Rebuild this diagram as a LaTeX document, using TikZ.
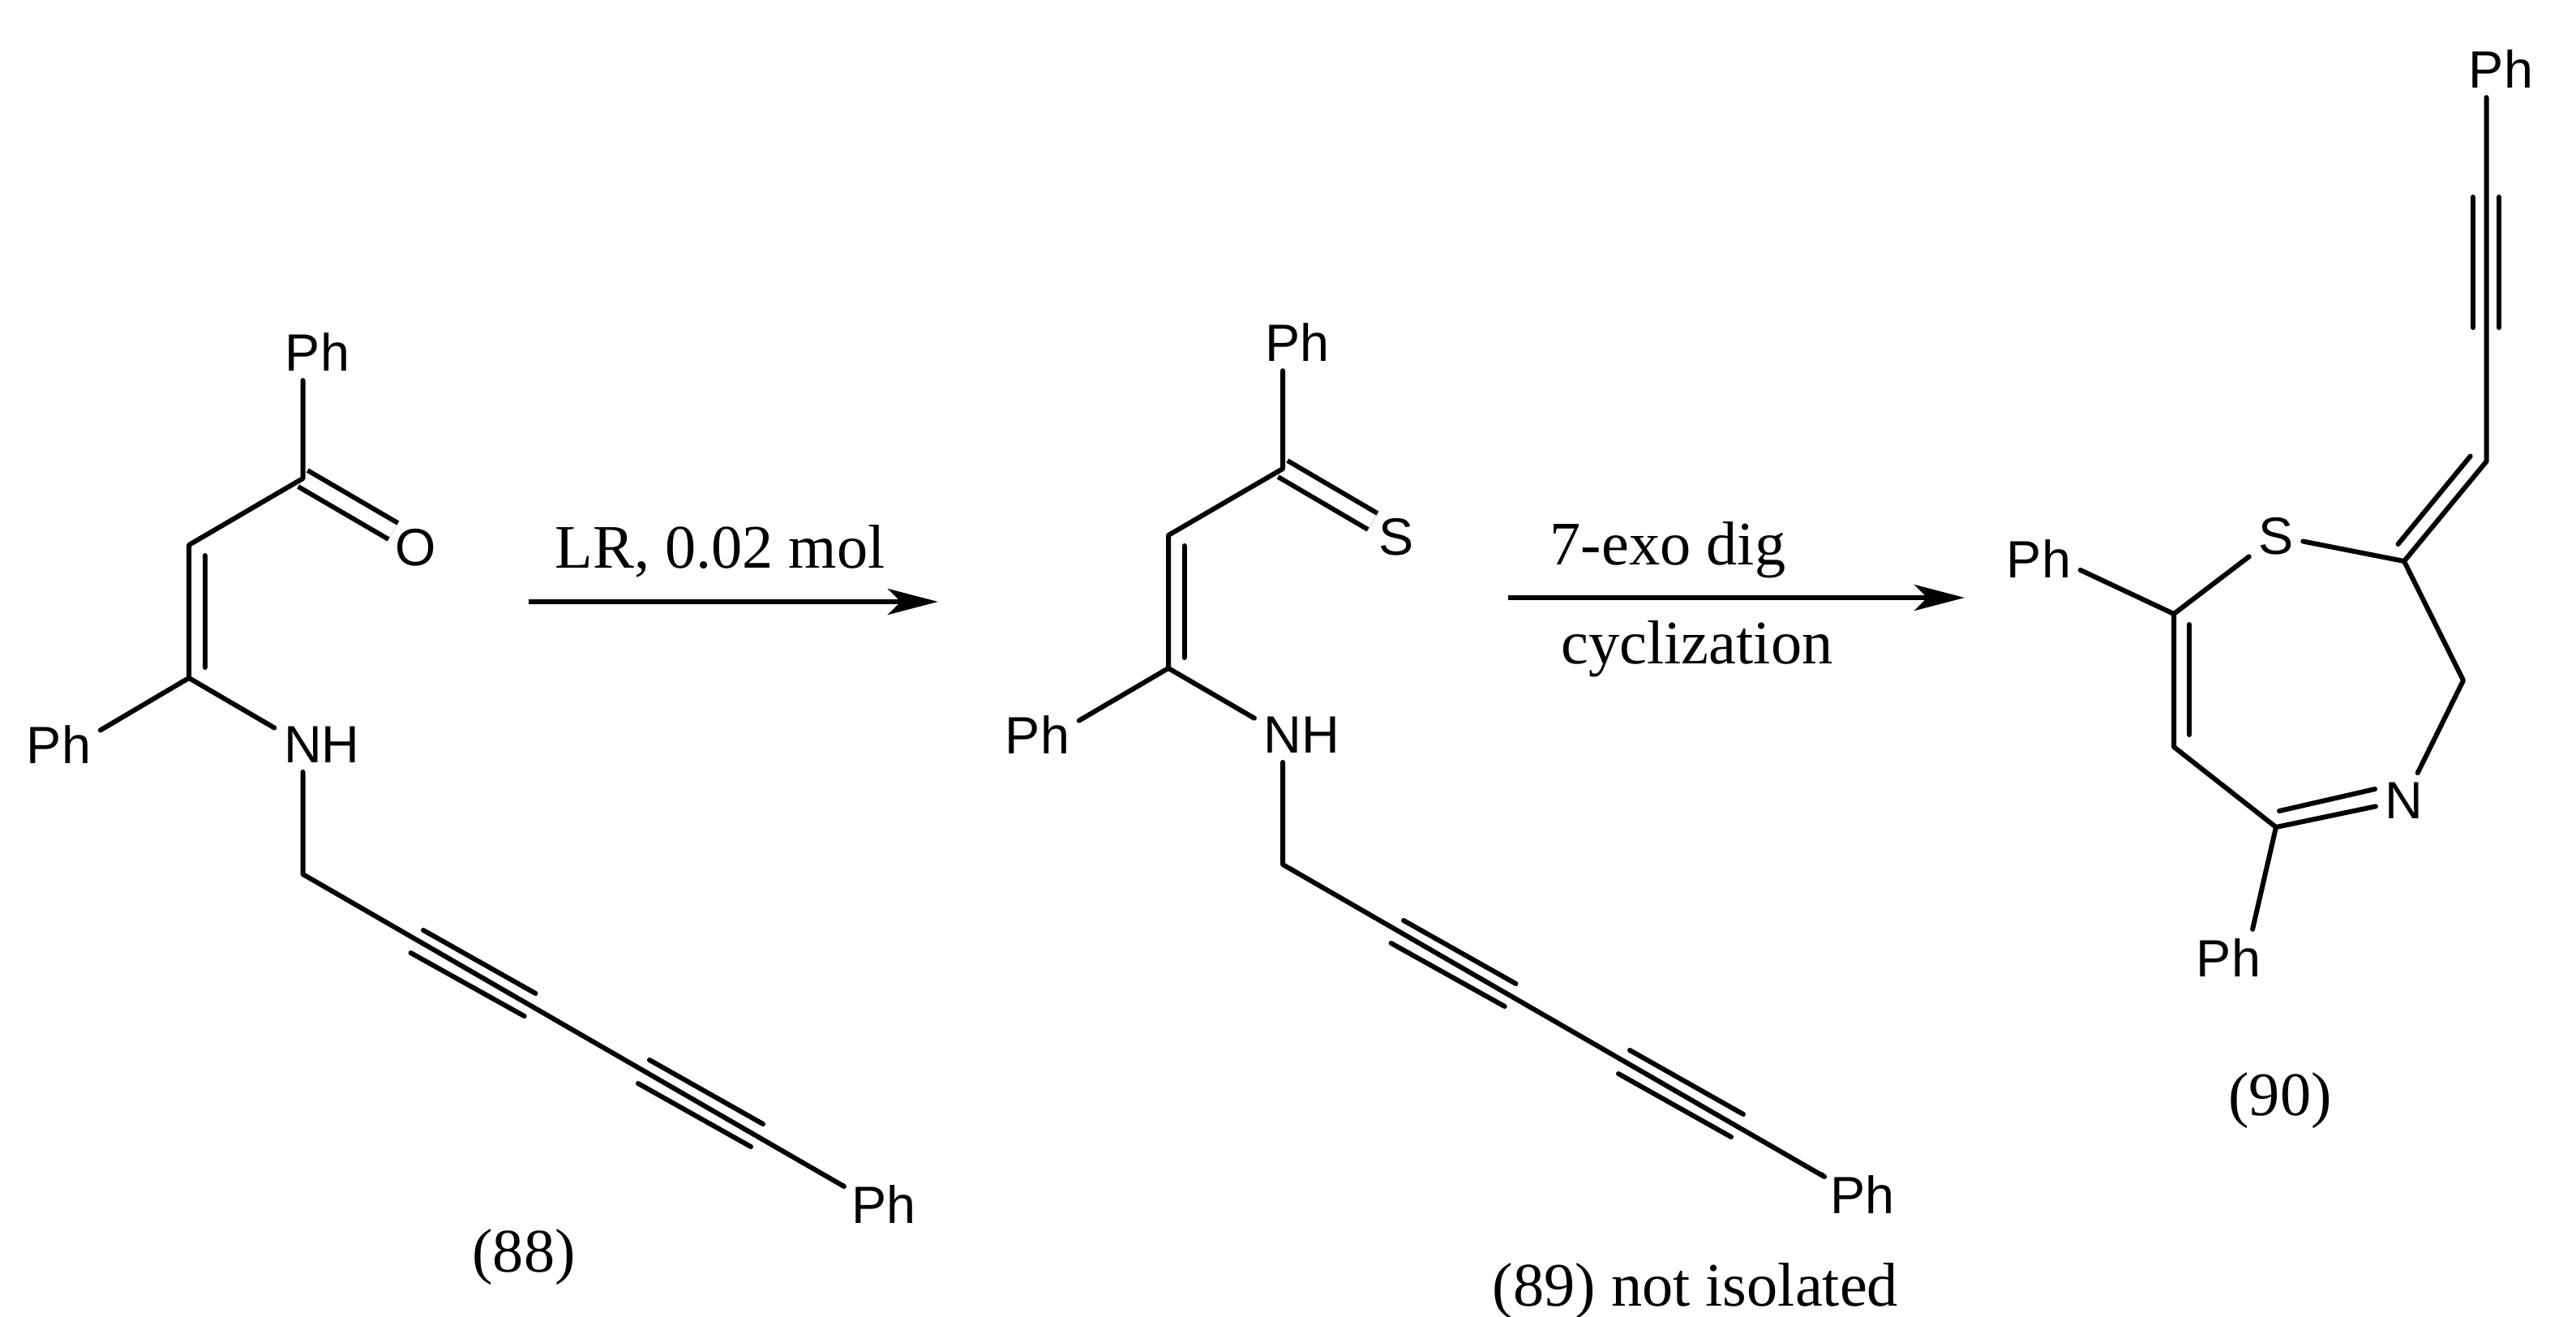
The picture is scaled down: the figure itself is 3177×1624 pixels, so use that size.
\documentclass[tikz,border=0pt]{standalone}
\usepackage{fontspec}
\setmainfont{Liberation Serif}
\setsansfont{Liberation Sans}
\usetikzlibrary{arrows.meta,calc}
\tikzset{/chem/atom/.style={rectangle, inner sep=0.11cm, align=center, font=\fontsize{18.4}{18.4}\sffamily
}}
\tikzset{/chem/caption/.style={rectangle, inner sep=0pt, anchor=base, font=\fontsize{21.7}{23}\rmfamily
}}
\tikzset{/chem/bond/.style={draw, line width=0.06cm, line cap=round, line join=round
}}
\tikzset{/chem/dbl/.style={draw, line width=0.06cm, double, double distance=0.17cm
}}
\tikzset{/chem/arrow/.style={draw, line width=0.06cm, -{Stealth[length=0.62cm,width=0.32cm,inset=0.16cm]}
}}
\begin{document}
\begin{tikzpicture}[x=0.01cm, y=-0.01cm]
		\useasboundingbox (0,0) rectangle (3177,1624);

		\node[/chem/atom] (ph88top) at (373.5,434) {P\rlap{h}};
		\node[/chem/atom] (ph88left) at (94,918) {\llap{P}h};
		\node[/chem/atom] (nh88) at (373.5,918) {N\rlap{H}};
		\node[/chem/atom] (o88) at (513,675) {O};
		\node[/chem/atom] (ph88end) at (1072,1485) {P\rlap{h}};
		\coordinate (c88a) at (373.5,590);
		\coordinate (c88b) at (233,672);
		\coordinate (c88c) at (233,836);
		\coordinate (c88d) at (373.5,1078);
		\coordinate (c88e) at (1041,1463);
		\coordinate (o88end) at (485,655);
		\coordinate (in88a) at (252.5,685);
		\coordinate (in88b) at (252.5,823);
		\coordinate (t88a) at (522,1147);
		\coordinate (t88b) at (660.5,1225);
		\coordinate (t88c) at (506.6,1175);
		\coordinate (t88d) at (646.7,1253);
		\coordinate (t88e) at (801,1307);
		\coordinate (t88f) at (941,1386);
		\coordinate (t88g) at (787,1336);
		\coordinate (t88h) at (926,1414);
		\path[/chem/dbl] (c88a) -- (o88end);
		\path[/chem/bond] (ph88top) -- (c88a) -- (c88b) -- (c88c) -- (ph88left);
		\path[/chem/bond] (c88c) -- (nh88);
		\path[/chem/bond] (in88a) -- (in88b);
		\path[/chem/bond] (nh88) -- (c88d) -- (c88e) -- (ph88end);
		\path[/chem/bond] (t88a) -- (t88b);
		\path[/chem/bond] (t88c) -- (t88d);
		\path[/chem/bond] (t88e) -- (t88f);
		\path[/chem/bond] (t88g) -- (t88h);
		\node[/chem/caption] (lab88) at (646,1568) {(88)};

		\coordinate (arr1a) at (652,742);
		\coordinate (arr1b) at (1157,742);
		\path[/chem/arrow] (arr1a) -- (arr1b);
		\node[/chem/caption] (cond1) at (888,700) {LR, 0.02 mol};

		\node[/chem/atom] (ph89top) at (1582,422) {P\rlap{h}};
		\node[/chem/atom] (ph89left) at (1301,906) {\llap{P}h};
		\node[/chem/atom] (nh89) at (1582,906) {N\rlap{H}};
		\node[/chem/atom] (s89) at (1722,662) {S};
		\node[/chem/atom] (ph89end) at (2279,1473) {P\rlap{h}};
		\coordinate (c89a) at (1582,578);
		\coordinate (c89b) at (1441,660);
		\coordinate (c89c) at (1441,824);
		\coordinate (c89d) at (1582,1066);
		\coordinate (c89e) at (2250,1451);
		\coordinate (s89end) at (1693,643);
		\coordinate (in89a) at (1460.5,673);
		\coordinate (in89b) at (1460.5,811);
		\coordinate (t89a) at (1731,1135);
		\coordinate (t89b) at (1869.5,1213);
		\coordinate (t89c) at (1715.6,1163);
		\coordinate (t89d) at (1855.7,1241);
		\coordinate (t89e) at (2010,1295);
		\coordinate (t89f) at (2150,1374);
		\coordinate (t89g) at (1996,1324);
		\coordinate (t89h) at (2135,1402);
		\path[/chem/dbl] (c89a) -- (s89end);
		\path[/chem/bond] (ph89top) -- (c89a) -- (c89b) -- (c89c) -- (ph89left);
		\path[/chem/bond] (c89c) -- (nh89);
		\path[/chem/bond] (in89a) -- (in89b);
		\path[/chem/bond] (nh89) -- (c89d) -- (c89e) -- (ph89end);
		\path[/chem/bond] (t89a) -- (t89b);
		\path[/chem/bond] (t89c) -- (t89d);
		\path[/chem/bond] (t89e) -- (t89f);
		\path[/chem/bond] (t89g) -- (t89h);
		\node[/chem/caption] (lab89) at (2091,1610) {(89) not isolated};

		\coordinate (arr2a) at (1860,737);
		\coordinate (arr2b) at (2423,737);
		\path[/chem/arrow] (arr2a) -- (arr2b);
		\node[/chem/caption] (cond2) at (2057,696) {7-exo dig};
		\node[/chem/caption] (cond3) at (2093,818) {cyclization};

		\node[/chem/atom] (ph90top) at (3066.5,85) {P\rlap{h}};
		\node[/chem/atom] (ph90left) at (2536,689) {\llap{P}h};
		\node[/chem/atom] (ph90low) at (2770,1181) {\llap{P}h};
		\node[/chem/atom] (s90) at (2807,661) {S};
		\node[/chem/atom] (n90) at (2965,987) {N};
		\coordinate (c90a) at (3066.5,569);
		\coordinate (c90b) at (2965,692);
		\coordinate (c90c) at (2681,757);
		\coordinate (c90d) at (2681,921);
		\coordinate (c90e) at (2807,1020);
		\coordinate (c90f) at (3038,839);
		\coordinate (in90a) at (2957.5,671);
		\coordinate (in90b) at (3046.7,562.5);
		\coordinate (in90c) at (2700,770);
		\coordinate (in90d) at (2700,906);
		\coordinate (in90e) at (2811,1000);
		\coordinate (in90f) at (2929,973);
		\coordinate (t90a) at (3050,243);
		\coordinate (t90b) at (3050,404);
		\coordinate (t90c) at (3082,243);
		\coordinate (t90d) at (3082,404);
		\path[/chem/bond] (ph90top) -- (c90a) -- (c90b) -- (s90);
		\path[/chem/bond] (s90) -- (c90c) -- (c90d) -- (c90e) -- (n90);
		\path[/chem/bond] (c90c) -- (ph90left);
		\path[/chem/bond] (c90e) -- (ph90low);
		\path[/chem/bond] (c90b) -- (c90f) -- (n90);
		\path[/chem/bond] (in90a) -- (in90b);
		\path[/chem/bond] (in90c) -- (in90d);
		\path[/chem/bond] (in90e) -- (in90f);
		\path[/chem/bond] (t90a) -- (t90b);
		\path[/chem/bond] (t90c) -- (t90d);
		\node[/chem/caption] (lab90) at (2812,1375) {(90)};
	\end{tikzpicture}
\end{document}
